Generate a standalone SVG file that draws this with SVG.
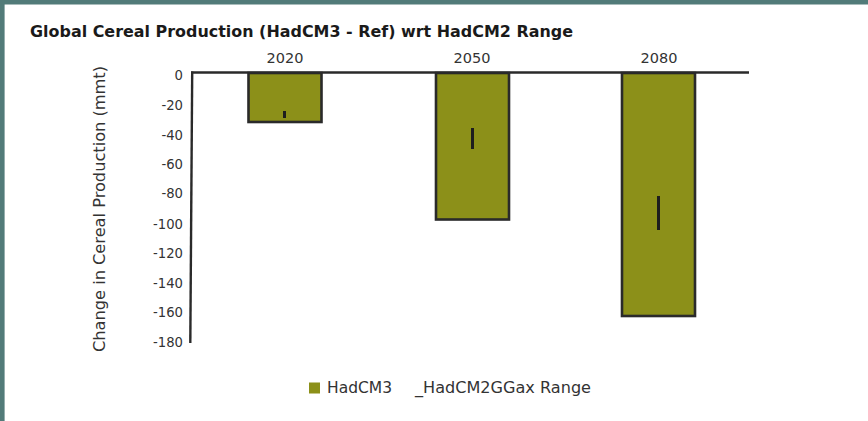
<svg xmlns="http://www.w3.org/2000/svg" width="868" height="421" viewBox="0 0 868 421">
<style>
.t{font-family:"DejaVu Sans",Verdana,sans-serif;fill:#333}
.tick{font-size:13.2px;text-anchor:end}
.cat{font-size:14.5px;text-anchor:middle}
.bar{fill:#8c9019;stroke:#2a2a2a;stroke-width:2.6}
.err{stroke:#1e1e1e;stroke-width:3}
.axis{stroke:#2a2a2a;stroke-width:2.4;fill:none}
</style>
<rect width="868" height="421" fill="#fff"/>
<rect x="0" y="0" width="868" height="4.5" fill="#527b79"/>
<rect x="0" y="0" width="4.6" height="421" fill="#527b79"/>
<text class="t" x="30" y="37" font-size="15" font-weight="bold" style="fill:#1a1a1a" textLength="543" lengthAdjust="spacingAndGlyphs">Global Cereal Production (HadCM3 - Ref) wrt HadCM2 Range</text>
<text class="t" transform="translate(105,209) rotate(-90)" font-size="16" text-anchor="middle" textLength="286" lengthAdjust="spacingAndGlyphs">Change in Cereal Production (mmt)</text>
<g id="yticks">
<text class="t tick" x="183" y="80">0</text>
<text class="t tick" x="183" y="110">-20</text>
<text class="t tick" x="183" y="140">-40</text>
<text class="t tick" x="183" y="169">-60</text>
<text class="t tick" x="183" y="198">-80</text>
<text class="t tick" x="183" y="229">-100</text>
<text class="t tick" x="183" y="258">-120</text>
<text class="t tick" x="183" y="288">-140</text>
<text class="t tick" x="183" y="317">-160</text>
<text class="t tick" x="183" y="347">-180</text>
</g>
<g id="bar2020">
<rect class="bar" x="248.5" y="73" width="73" height="49"/>
<line class="err" x1="284.5" y1="111" x2="284.5" y2="118"/>
<text class="t cat" x="285" y="63">2020</text>
</g>
<g id="bar2050">
<rect class="bar" x="436" y="73" width="73" height="146.5"/>
<line class="err" x1="472.5" y1="128" x2="472.5" y2="149"/>
<text class="t cat" x="472" y="63">2050</text>
</g>
<g id="bar2080">
<rect class="bar" x="622" y="73" width="73" height="243"/>
<line class="err" x1="658.5" y1="196" x2="658.5" y2="230"/>
<text class="t cat" x="659" y="63">2080</text>
</g>
<g id="axes">
<line class="axis" x1="191" y1="72.5" x2="749" y2="72.5"/>
<line class="axis" x1="192.2" y1="71.5" x2="190.3" y2="343"/>
</g>
<g id="legend">
<rect x="309" y="382.5" width="11" height="11" fill="#8c9019"/>
<text class="t" x="327" y="393" font-size="15.5" textLength="65" lengthAdjust="spacingAndGlyphs">HadCM3</text>
<text class="t" x="415" y="393" font-size="15.5" textLength="176" lengthAdjust="spacingAndGlyphs">_HadCM2GGax Range</text>
</g>
</svg>
